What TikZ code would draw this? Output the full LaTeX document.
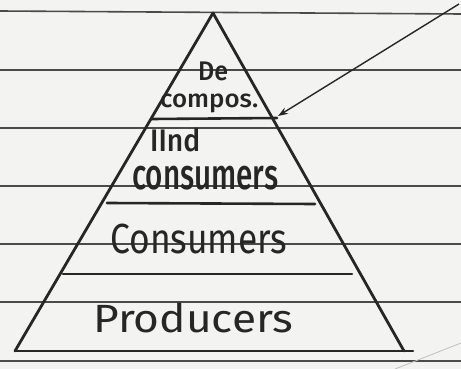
\documentclass[tikz,border=0pt]{standalone}
\usepackage{fontspec}
\usepackage{graphicx}
\setmainfont{Fira Sans}
\newfontfamily\inkmed{Fira Sans}[UprightFont=* Medium]
\usetikzlibrary{arrows.meta}
\definecolor{paper}{HTML}{F3F3F1}
\definecolor{rule}{HTML}{4A4A4A}
\definecolor{ink}{HTML}{262626}
\tikzset{
  ruling/.style={draw=rule, line width=1.6pt},
  pyr/.style={draw=ink, line width=2.8pt, line join=round, line cap=round},
  layer/.style={draw=ink, line width=2.6pt, line cap=round},
  word/.style={inner sep=0pt, anchor=north west, text=ink},
  small word/.style={word, font=\inkmed},
  pointer/.style={draw=ink, line width=1.4pt, -{Stealth[length=10pt,width=7pt]}}
}
% \hw{width}{total height}{text}: a word stretched to a given box
\newcommand{\hw}[3]{\resizebox*{#1}{#2}{#3}}
\begin{document}
\begin{tikzpicture}[x=1pt,y=-1pt]
  \fill[paper] (0,0) rectangle (461,369);
  \useasboundingbox (0,0) rectangle (461,369);

  % ruled lines of the notebook page
  \foreach \yy/\yr in {11/14, 70/70, 128/128, 186/186, 244/244, 302/302, 361/361}
    \draw[ruling] (0,\yy) -- (461,\yr);
  \draw[rule!35, line width=0.8pt] (395,369) -- (461,343);

  % pyramid outline
  \coordinate (apex) at (213,13);
  \coordinate (bl) at (15,351);
  \coordinate (br) at (404,351);
  \draw[pyr] (bl) -- (apex) -- (br);
  \draw[layer] (bl) -- (413,351);

  % dividing lines between levels
  \coordinate (d1l) at (152,119); \coordinate (d1r) at (277,118);
  \coordinate (d2l) at (107,203); \coordinate (d2r) at (315,204);
  \coordinate (d3l) at (63,274);  \coordinate (d3r) at (352,274);
  \draw[layer] (d1l) -- (d1r);
  \draw[layer] (d2l) -- (d2r);
  \draw[layer] (d3l) -- (d3r);

  % level labels
  \node[small word] (de) at (198,62) {\hw{30pt}{19pt}{De}};
  \node[small word] (compos) at (160,94) {\hw{98pt}{19pt}{compos.}};
  \node[small word] (second) at (150,128) {\hw{50pt}{24pt}{IInd}};
  \node[small word] (cons2) at (132,166) {\hw{146pt}{24pt}{consumers}};
  \node[word] (cons1) at (110,224) {\hw{177pt}{30pt}{Consumers}};
  \node[word] (prod) at (93,303) {\hw{200pt}{30pt}{Producers}};

  % pointer to the top level
  \coordinate (tail) at (459,4);
  \coordinate (tip) at (278,116);
  \draw[pointer] (tail) -- (tip);
\end{tikzpicture}
\end{document}
